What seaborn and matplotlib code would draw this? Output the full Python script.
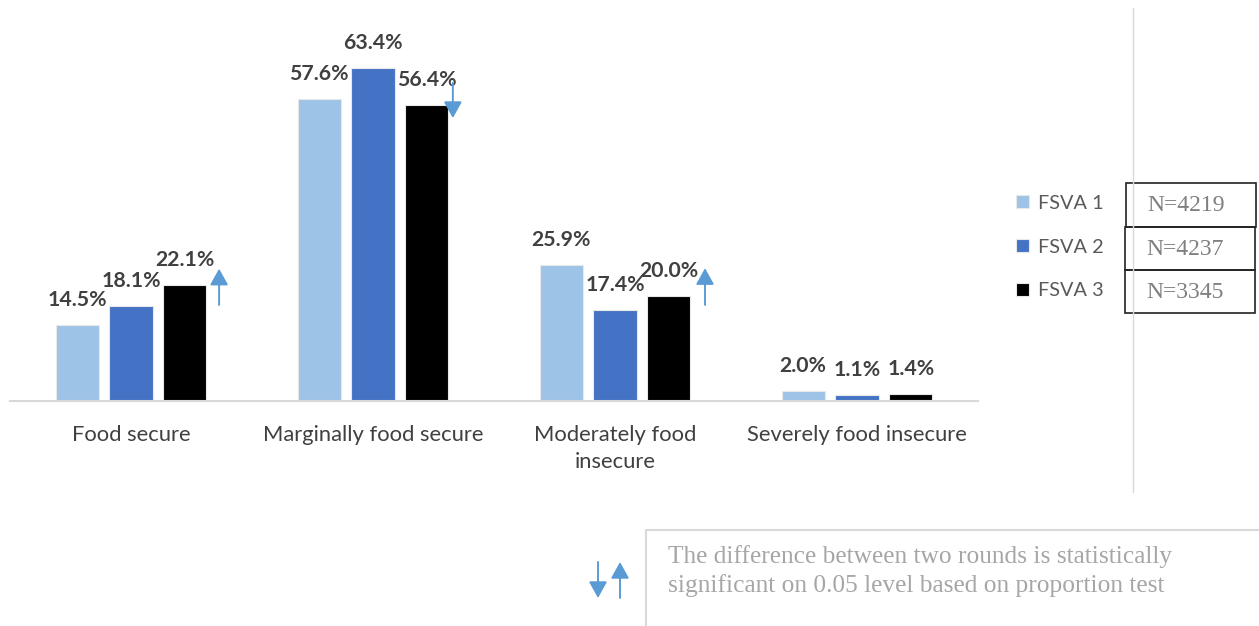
import numpy as np
import pandas as pd
import matplotlib
matplotlib.use("Agg")
import matplotlib.pyplot as plt
from matplotlib.patches import Rectangle
from matplotlib.lines import Line2D
import seaborn as sns

categories = ["Food secure", "Marginally food secure", "Moderately food\ninsecure", "Severely food insecure"]
rounds = ["FSVA 1", "FSVA 2", "FSVA 3"]
fsva1 = [14.5, 57.6, 25.9, 2.0]
fsva2 = [18.1, 63.4, 17.4, 1.1]
fsva3 = [22.1, 56.4, 20.0, 1.4]
sample_sizes = ["N=4219", "N=4237", "N=3345"]
colors = ["#9DC3E6", "#4472C4", "#000000"]

df = pd.DataFrame({
    "category": categories * 3,
    "round": np.repeat(rounds, 4),
    "value": fsva1 + fsva2 + fsva3,
})

sns.set_theme(style="white")
plt.rcParams["font.family"] = ["Lato", "DejaVu Sans"]

fig = plt.figure(figsize=(12.59, 6.26), dpi=100)
ax = fig.add_axes([10/1259, 225/626, 968/1259, 367.5/626])

sns.barplot(data=df, x="category", y="value", hue="round", order=categories,
            hue_order=rounds, palette=colors, saturation=1, width=0.667, gap=0.2,
            edgecolor="#e8e8e8", linewidth=0.8, ax=ax, legend=True)

ax.set_ylim(0, 70)
ax.set_xlim(-0.5, 3.5)
ax.set_xlabel("")
ax.set_ylabel("")
ax.set_yticks([])
for s in ["top", "left", "right"]:
    ax.spines[s].set_visible(False)
ax.spines["bottom"].set_color("#D9D9D9")
ax.spines["bottom"].set_linewidth(1.5)
ax.tick_params(axis="x", length=0, pad=17, labelsize=15.8, labelcolor="#404040")
for lab in ax.get_xticklabels():
    lab.set_linespacing(1.45)
    lab.set_verticalalignment("top")

for cont in ax.containers:
    for bar in cont:
        h = bar.get_height()
        ax.annotate(f"{h:.1f}%", (bar.get_x() + bar.get_width()/2, h),
                    xytext=(0, 18), textcoords="offset points", ha="center", va="center",
                    fontsize=15.3, fontweight="bold", color="#404040")

# significance arrows
arrow_kw = dict(arrowstyle="-|>,head_length=0.45,head_width=0.25", color="#5B9BD5",
                lw=1.4, mutation_scale=22, shrinkA=0, shrinkB=0)
ax.annotate("", xy=(0.364, 25.2), xytext=(0.364, 18.3), arrowprops=arrow_kw)
ax.annotate("", xy=(2.372, 25.3), xytext=(2.372, 18.3), arrowprops=arrow_kw)
ax.annotate("", xy=(1.33, 53.9), xytext=(1.33, 60.6), arrowprops=arrow_kw)

# legend
handles, labels = ax.get_legend_handles_labels()
leg = ax.legend(handles, labels, loc="center left", bbox_to_anchor=(998/1259, 1 - 247/626),
                bbox_transform=fig.transFigure, frameon=False, fontsize=14.3,
                handlelength=0.65, handleheight=0.65, handletextpad=0.45, labelspacing=1.35,
                labelcolor="#595959")

# vertical divider
fig.add_artist(Line2D([1133/1259, 1133/1259], [1 - 8/626, 1 - 492/626], color="#D9D9D9", lw=1,
                      transform=fig.transFigure))

# N boxes
boxes = [(1126, 183, 1256, 227), (1125, 227, 1255, 270), (1125, 270, 1255, 313)]
for (x0, y0, x1, y1), txt in zip(boxes, sample_sizes):
    fig.add_artist(Rectangle((x0/1259, 1 - y1/626), (x1 - x0)/1259, (y1 - y0)/626,
                             transform=fig.transFigure, fill=False, edgecolor="#222222", lw=1.2))
    fig.text((x0 + 21)/1259, 1 - ((y0 + y1)/2 + 1)/626, txt, ha="left", va="center",
             fontsize=17, color="#7F7F7F", family=["Liberation Serif", "DejaVu Serif"])

# footnote box
fig.add_artist(Line2D([646/1259, 646/1259], [0, 1 - 530/626], color="#D9D9D9", lw=1.5,
                      transform=fig.transFigure))
fig.add_artist(Line2D([646/1259, 1], [1 - 530/626, 1 - 530/626], color="#D9D9D9", lw=1.5,
                      transform=fig.transFigure))
fig.text(668/1259, 1 - 571/626,
         "The difference between two rounds is statistically\nsignificant on 0.05 level based on proportion test",
         ha="left", va="center", fontsize=18.3, color="#A6A6A6", linespacing=1.38,
         family=["Liberation Serif", "DejaVu Serif"])
fig_kw = dict(arrowstyle="-|>,head_length=0.45,head_width=0.25", color="#5B9BD5",
              lw=1.4, mutation_scale=22, shrinkA=0, shrinkB=0)
ax.annotate("", xy=(598/1259, 1 - 598/626), xytext=(598/1259, 1 - 562/626),
            xycoords="figure fraction", textcoords="figure fraction", arrowprops=fig_kw,
            annotation_clip=False)
ax.annotate("", xy=(620/1259, 1 - 562/626), xytext=(620/1259, 1 - 598/626),
            xycoords="figure fraction", textcoords="figure fraction", arrowprops=fig_kw,
            annotation_clip=False)

fig.savefig("out.png", dpi=100)
